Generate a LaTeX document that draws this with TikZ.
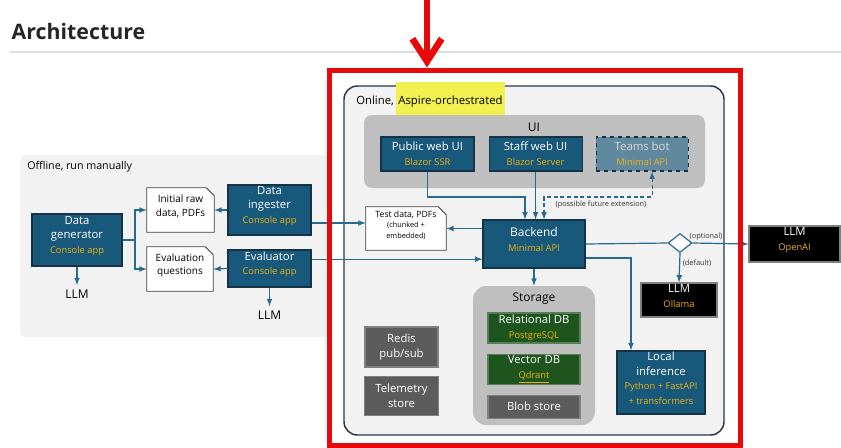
\documentclass[tikz,border=0pt]{standalone}
\usepackage{fontspec}
\setmainfont{Open Sans}
\usetikzlibrary{positioning,fit,shapes.geometric,arrows.meta}
\definecolor{appblue}{RGB}{24,88,122}
\definecolor{appedge}{RGB}{22,50,70}
\definecolor{gold}{RGB}{236,178,16}
\definecolor{wireblue}{RGB}{40,105,145}
\definecolor{dbgreen}{RGB}{30,84,30}
\definecolor{darkgrey}{RGB}{92,92,92}
\definecolor{midgrey}{RGB}{191,191,191}
\definecolor{panel}{RGB}{242,242,242}
\definecolor{hiyellow}{RGB}{240,240,80}
\definecolor{redbox}{RGB}{232,10,10}
\definecolor{botblue}{RGB}{96,136,158}
\newcommand{\apptag}[1]{\\{\fontsize{7}{8}\selectfont\color{gold}#1}}

\begin{document}
\begin{tikzpicture}[
  x=0.75pt, y=-0.75pt,
  font=\fontsize{8.5}{11}\selectfont,
  app/.style={draw=appedge, line width=0.8pt, fill=appblue, text=white, align=center, inner sep=0pt},
  db/.style={app, fill=dbgreen, draw=dbgreen!75!white},
  infra/.style={app, fill=darkgrey, draw=gray},
  llmbox/.style={app, fill=black, draw=gray},
  doc/.style={fill=white, align=center, inner sep=0pt, font=\fontsize{7.5}{10}\selectfont},
  docline/.style={draw=black!75, line width=0.7pt, line join=miter},
  group/.style={fill=midgrey, rounded corners=6pt, inner sep=0pt},
  wire/.style={draw=wireblue, line width=0.9pt},
  arr/.style={wire, -latex},
  note/.style={font=\fontsize{5.5}{6.5}\selectfont, text=black!80, inner sep=1pt},
]
\useasboundingbox (0,0) rectangle (841,447);

\node[anchor=base west, font=\fontsize{16}{18}\selectfont\bfseries, text=black!85] (title) at (7,39) {Architecture};
\draw[black!13, line width=0.8pt] (10,52) -- (841,52);

\node[fill=panel, rounded corners=4pt, inner sep=0pt, fit={(20,155) (331,337)}] (offbox) {};
\node[anchor=west, font=\fontsize{8}{10}\selectfont, inner sep=0pt] (offl) at (27,167) {Offline, run manually};

\node[app, fit={(32,214) (122,266)}] (gen) {Data\\generator\apptag{Console app}};
\node[app, fit={(228,185) (311,235)}] (ing) {Data\\ingester\apptag{Console app}};
\node[app, fit={(228,250) (311,287)}] (evl) {Evaluator\apptag{Console app}};
\node[doc, fit={(147,188) (214,232)}] (raw) {Initial raw\\data, PDFs};
\node[doc, fit={(147,247) (213,291)}] (evq) {Evaluation\\questions};
\node[below=14pt of gen, font=\fontsize{9}{11}\selectfont] (llma) {LLM};
\node[below=14pt of evl, font=\fontsize{9}{11}\selectfont] (llmb) {LLM};

\node[fill=panel, draw={rgb,255:red,40;green,55;blue,70}, line width=1.1pt, rounded corners=10pt, inner sep=0pt, fit={(344,86) (724,435)}] (onbox) {};
\node[anchor=base west, inner sep=0pt] (onl) at (356,104) {Online,};
\node[anchor=base west, fill=hiyellow, inner xsep=2pt, text height=13pt, text depth=8pt] (asp) at ([xshift=1pt]onl.base east) {Aspire-orchestrated};

\node[group, fit={(364,115) (705,188)}] (ui) {};
\node[font=\fontsize{9}{11}\selectfont] (uil) at (534,127) {UI};
\node[app, minimum width=69.75pt, minimum height=25.5pt] (pub) at (427.5,154) {Public web UI\apptag{Blazor SSR}};
\node[app, minimum width=69.75pt, minimum height=25.5pt, right=10.5pt of pub] (stf) {Staff web UI\apptag{Blazor Server}};
\node[app, fill=botblue, dashed, text=white!85!black, minimum width=69pt, minimum height=25.5pt, right=9.75pt of stf] (teams) {Teams bot\apptag{Minimal API}};

\node[app, fit={(483,220) (585,268)}, font=\fontsize{9}{11}\selectfont] (bk) {Backend\apptag{Minimal API}};
\node[doc, fit={(366,207) (446,250)}, font=\fontsize{6.5}{8}\selectfont] (tdat) {Test data, PDFs\\{\fontsize{5.5}{7}\selectfont(chunked +}\\{\fontsize{5.5}{7}\selectfont embedded)}};

\foreach \d in {raw,evq,tdat} {
  \fill[panel] (\d.north east) -- ++(-6pt,0) -- ++(6pt,-6pt) -- cycle;
  \draw[docline] (\d.south west) -- (\d.north west) -- ([xshift=-6pt]\d.north east)
    -- ([yshift=-6pt]\d.north east) -- (\d.south east) -- cycle;
}

\node[group, rounded corners=10pt, fit={(473,286) (595,425)}] (stor) {};
\node[font=\fontsize{9}{11}\selectfont] (storl) at (534,299) {Storage};
\node[db, minimum width=69pt, minimum height=22.5pt] (rel) at (534,328) {Relational DB\apptag{PostgreSQL}};
\node[db, minimum width=69pt, minimum height=22.5pt, below=7.5pt of rel] (vec) {Vector DB\apptag{\underline{Qdrant}}};
\node[infra, minimum width=69pt, minimum height=17.25pt, below=7.5pt of vec] (blob) {Blob store};

\node[infra, minimum width=54.75pt, minimum height=30pt] (redis) at (401.5,347) {Redis\\pub/sub};
\node[infra, minimum width=55.5pt, minimum height=29.25pt, below=6pt of redis] (tele) {Telemetry\\store};

\node[app, line width=1.1pt, fit={(617,351) (705,414)}] (loc) {Local\\inference\apptag{Python + FastAPI}\apptag{+ transformers}};
\node[diamond, draw=wireblue, line width=0.9pt, fill=white, minimum width=18pt, minimum height=14.25pt, inner sep=0pt] (dia) at (680,243) {};
\node[llmbox, fit={(641,283) (717,317)}] (oll) {LLM\apptag{Ollama}};
\node[llmbox, fit={(749,226) (840,262)}] (oai) {LLM\apptag{OpenAI}};

\node[note] (futl) at (601,205) {(possible future extension)};
\node[note] (optl) at (706,237) {(optional)};
\node[note] (defl) at (697,263) {(default)};

\coordinate (split) at (135,240);
\draw[wire] (gen.east) -- (split);
\draw[arr] (split) |- (raw.west);
\draw[arr] (split) |- (evq.west);
\draw[arr] (ing.west) -- (raw.east);
\draw[arr] (evl.west) -- (evq.east);
\draw[arr] (gen.south) -- (llma.north);
\draw[arr] (evl.south) -- (llmb.north);
\draw[arr] ([yshift=-9.75pt]ing.east) -- ([yshift=-9.75pt]ing.east -| tdat.west);
\draw[arr] ([yshift=7pt]evl.east) -- ([yshift=7pt]evl.east -| bk.west);
\draw[arr] (bk.west |- tdat.east) -- (tdat.east);
\coordinate (j1) at (525,197);
\draw[arr] (pub.south) |- (j1) -- (j1 |- bk.north);
\draw[arr] (stf.south) -- (stf.south |- bk.north);
\coordinate (j2) at (544,197);
\draw[wire, dash pattern=on 3pt off 2pt, latex-latex] ([xshift=7.5pt]teams.south) |- (j2) -- (j2 |- bk.north);
\draw[arr] (bk.south) -- (stor.north);
\draw[wire] (bk.east) -- (dia.west);
\draw[arr] (dia.east) -- (oai.west);
\draw[arr] (dia.south) -- (oll.north);
\draw[arr] ([yshift=-10.5pt]bk.east) -| ([xshift=-22.5pt]loc.north);

\node[draw=redbox, line width=3.75pt, inner sep=0pt, fit={(329,70) (740,445)}] (redfr) {};
\coordinate (arrtop) at (427,0);
\draw[redbox, line width=5pt, -{Straight Barb[length=17pt, width=22pt]}] (arrtop) -- (arrtop |- redfr.north);
\end{tikzpicture}
\end{document}
